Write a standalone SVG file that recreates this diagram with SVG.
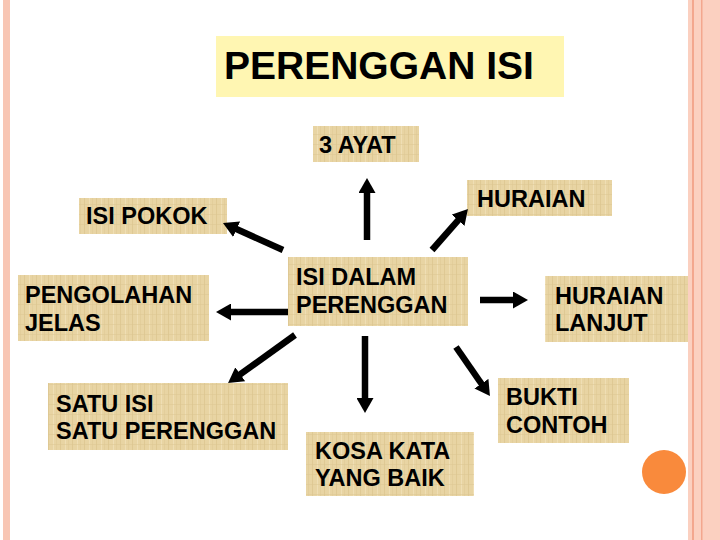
<svg xmlns="http://www.w3.org/2000/svg" width="720" height="540" viewBox="0 0 720 540">
<defs>
<pattern id="papyrus" width="12" height="10" patternUnits="userSpaceOnUse">
<rect width="12" height="10" fill="#e8d4a3"/>
<rect x="0" y="0" width="1" height="10" fill="#d9c18b" opacity="0.6"/>
<rect x="5" y="0" width="1" height="10" fill="#f3e3bb" opacity="0.7"/>
<rect x="0" y="4" width="12" height="1" fill="#dcc591" opacity="0.5"/>
<rect x="8" y="0" width="1" height="10" fill="#ddc793" opacity="0.5"/>
</pattern>
<marker id="ah" markerUnits="userSpaceOnUse" markerWidth="17" markerHeight="17" refX="4" refY="8.5" orient="auto">
<path d="M0,0 L15,8.5 L0,17 z" fill="#000"/>
</marker>
<style>
.box{fill:url(#papyrus);}
.lbl{font-family:"Liberation Sans",Arial,sans-serif;font-weight:bold;font-size:23.5px;fill:#000;}
.title{font-family:"Liberation Sans",Arial,sans-serif;font-weight:bold;font-size:39px;fill:#000;}
.arr{stroke:#000;stroke-width:6.5;fill:none;marker-end:url(#ah);}
</style>
</defs>
<rect width="720" height="540" fill="#fff"/>
<!-- borders -->
<rect x="3" y="0" width="7" height="540" fill="#f8c6b4"/>
<rect x="688" y="0" width="32" height="540" fill="#fbd0c0"/>
<rect x="692" y="0" width="2" height="540" fill="#f3a78e"/>
<rect x="701" y="0" width="1.5" height="540" fill="#f3a78e"/>
<circle cx="664" cy="472" r="22" fill="#f98a3c"/>

<g id="title">
<rect x="216" y="36" width="348" height="61" fill="#fff6b2"/>
<text class="title" x="224" y="79">PERENGGAN ISI</text>
</g>
<g id="ayat">
<rect class="box" x="313" y="126" width="106" height="36"/>
<text class="lbl" x="319" y="153">3 AYAT</text>
</g>
<g id="huraian">
<rect class="box" x="467" y="180" width="145" height="36"/>
<text class="lbl" x="477" y="207">HURAIAN</text>
</g>
<g id="isipokok">
<rect class="box" x="79" y="198" width="148" height="36"/>
<text class="lbl" x="86" y="224">ISI POKOK</text>
</g>
<g id="pengolahan">
<rect class="box" x="18" y="275" width="191" height="66"/>
<text class="lbl" x="25" y="303">PENGOLAHAN</text>
<text class="lbl" x="25" y="331">JELAS</text>
</g>
<g id="isidalam">
<rect class="box" x="288" y="257" width="180" height="69"/>
<text class="lbl" x="296" y="285">ISI DALAM</text>
<text class="lbl" x="296" y="313">PERENGGAN</text>
</g>
<g id="huraianlanjut">
<rect class="box" x="545" y="276" width="143" height="66"/>
<text class="lbl" x="555" y="304">HURAIAN</text>
<text class="lbl" x="555" y="331">LANJUT</text>
</g>
<g id="satuisi">
<rect class="box" x="48" y="383" width="240" height="67"/>
<text class="lbl" x="56" y="412">SATU ISI</text>
<text class="lbl" x="56" y="439">SATU PERENGGAN</text>
</g>
<g id="kosakata">
<rect class="box" x="306" y="432" width="168" height="64"/>
<text class="lbl" x="315" y="459">KOSA KATA</text>
<text class="lbl" x="315" y="486">YANG BAIK</text>
</g>
<g id="bukti">
<rect class="box" x="498" y="378" width="131" height="65"/>
<text class="lbl" x="506" y="405">BUKTI</text>
<text class="lbl" x="506" y="433">CONTOH</text>
</g>

<g id="connectors">
<line class="arr" x1="367" y1="240" x2="367" y2="189"/>
<line class="arr" x1="283" y1="250" x2="233" y2="227.5"/>
<line class="arr" x1="432" y1="250" x2="460.7" y2="217.3"/>
<line class="arr" x1="288" y1="312" x2="227" y2="312"/>
<line class="arr" x1="480" y1="300" x2="517" y2="300"/>
<line class="arr" x1="295" y1="335" x2="237" y2="376.6"/>
<line class="arr" x1="365" y1="336" x2="365" y2="402"/>
<line class="arr" x1="456" y1="347" x2="483.7" y2="387"/>
</g>
</svg>
